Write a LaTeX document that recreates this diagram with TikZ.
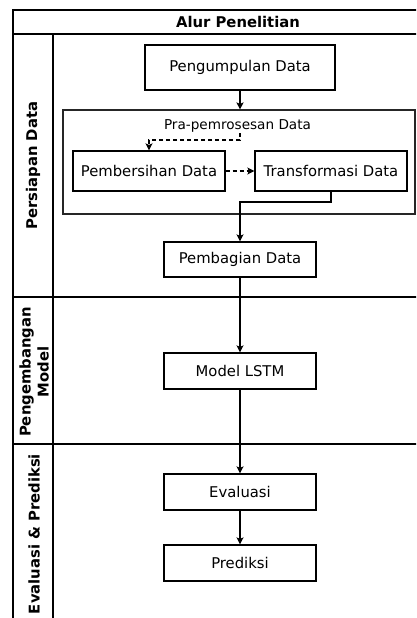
\documentclass[tikz,border=0pt]{standalone}
\usepackage{fontspec}
\setmainfont{DejaVu Sans}
\usetikzlibrary{arrows.meta}
\begin{document}
\begin{tikzpicture}[x=1pt,y=-1pt,
  lane/.style={line width=1.3pt, draw=black},
  stepbox/.style={draw, line width=1.2pt, inner sep=0pt, font=\fontsize{14.8}{17}\selectfont},
  lanelabel/.style={rotate=90, font=\fontsize{14.8}{18}\selectfont\bfseries, align=center, inner sep=0pt},
  arr/.style={line width=1.2pt, -{Stealth[length=7pt,width=7pt,inset=1.5pt]}},
  darr/.style={line width=1.2pt, dashed, dash pattern=on 4pt off 3pt, -{Stealth[length=7pt,width=7pt,inset=1.5pt]}}]
\useasboundingbox (0,0) rectangle (416,618);
\clip (0,0) rectangle (416,618);
% swimlane frame
\draw[lane] (13,640) -- (13,10) -- (430,10);
\draw[lane] (13,34) -- (430,34);
\draw[lane] (53,34) -- (53,640);
\draw[lane] (13,297) -- (430,297);
\draw[lane] (13,444) -- (430,444);
\node[font=\fontsize{14.8}{17}\selectfont\bfseries] (title) at (238,22) {Alur Penelitian};
\node[lanelabel] (l1) at (33,165.5) {Persiapan Data};
\node[lanelabel] (l2) at (34,372) {Pengembangan\\Model};
\node[lanelabel] (l3) at (34,534) {Evaluasi \& Prediksi};
% container
\node[draw=black!85, line width=1.1pt, minimum width=352pt, minimum height=104pt, inner sep=0pt] (pre) at (239,162) {};
\node[font=\fontsize{13.6}{16}\selectfont, inner sep=0pt] (prelabel) at (237.5,126) {Pra-pemrosesan Data};
% steps
\node[stepbox, minimum width=190pt, minimum height=45pt] (peng) at (240,67.5) {Pengumpulan Data};
\node[stepbox, minimum width=152pt, minimum height=40pt] (clean) at (149,171) {Pembersihan Data};
\node[stepbox, minimum width=152pt, minimum height=40pt] (trans) at (331,171) {Transformasi Data};
\node[stepbox, minimum width=152pt, minimum height=35pt] (bagi) at (240,259.5) {Pembagian Data};
\node[stepbox, minimum width=152pt, minimum height=36pt] (lstm) at (240,371) {Model LSTM};
\node[stepbox, minimum width=152pt, minimum height=36pt] (eval) at (240,492) {Evaluasi};
\node[stepbox, minimum width=152pt, minimum height=36pt] (pred) at (240,563) {Prediksi};
% connectors
\coordinate (tick) at (240,133);
\coordinate (bend) at (240,202);
\draw[arr] (peng.south) -- (peng.south |- pre.north);
\draw[darr] (tick) |- ++(-50,7) -| (clean.north);
\draw[darr] (clean.east) -- (trans.west);
\draw[arr] (trans.south) |- (bend) -- (bagi.north);
\draw[arr] (bagi.south) -- (lstm.north);
\draw[arr] (lstm.south) -- (eval.north);
\draw[arr] (eval.south) -- (pred.north);
\end{tikzpicture}
\end{document}
